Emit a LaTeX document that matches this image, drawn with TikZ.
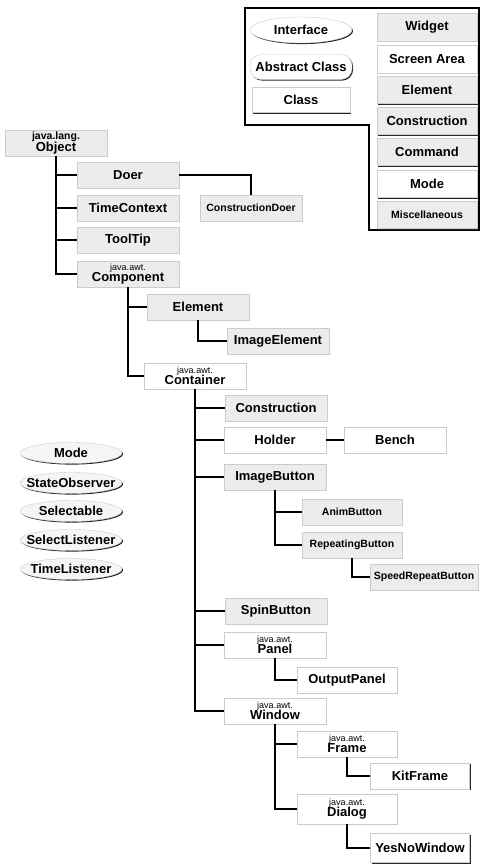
\documentclass[tikz,border=0pt]{standalone}
\usepackage{fontspec}
\setmainfont{Liberation Sans}
\usetikzlibrary{shapes.geometric,shadows}

\newcommand{\pkg}[1]{{\fontsize{9}{9}\selectfont\mdseries #1}\\}
\newcommand{\wide}[1]{\makebox[0pt]{#1}}

\begin{document}
\begin{tikzpicture}[x=1pt,y=-1pt,
  every node/.style={font=\fontsize{13}{11.5}\bfseries},
  edge/.style={draw, line width=1.4pt},
  dropline/.style={drop shadow={shadow xshift=1.1pt,shadow yshift=-1.1pt,opacity=1,fill=black!85}},
  cls/.style={rectangle, draw=gray!40, fill=gray!15, dropline, minimum width=102pt, minimum height=26pt, inner sep=1pt, align=center},
  plain/.style={cls, fill=white},
  iface/.style={ellipse, draw=gray!40, fill=gray!8, dropline, minimum width=102pt, minimum height=21pt, inner sep=0pt},
  abstr/.style={rectangle, rounded corners=11pt, draw=gray!40, fill=white, dropline, minimum width=102pt, minimum height=25pt},
  small/.style={font=\fontsize{10.5}{11}\bfseries}]
\useasboundingbox (0,0) rectangle (481,867);

% legend
\draw[line width=1.1pt] (245,8) -- (479,8) -- (479,230) -- (369,230) -- (369,125) -- (245,125) -- cycle;
\node[iface, fill=white, minimum height=26pt] (lgIface) at (301,30) {\wide{Interface}};
\node[abstr] (lgAbstr) at (301,67) {Abstract Class};
\node[plain, minimum width=98pt, minimum height=25pt] (lgClass) at (301,100) {Class};
\node[cls, minimum width=100pt, minimum height=28pt] (lgWidget) at (427,27) {Widget};
\node[plain, minimum width=100pt, minimum height=28pt] (lgArea) at (427,59) {Screen Area};
\node[cls, minimum width=100pt, minimum height=27pt] (lgElem) at (427,90) {Element};
\node[cls, minimum width=100pt, minimum height=27pt] (lgCons) at (427,121) {Construction};
\node[cls, minimum width=100pt, minimum height=27pt] (lgCmd) at (427,152) {Command};
\node[plain, minimum width=100pt, minimum height=27pt] (lgMode) at (427,184) {Mode};
\node[cls, small, minimum width=100pt, minimum height=27pt] (lgMisc) at (427,215) {Miscellaneous};

% java.lang.Object branch
\node[cls] (object) at (56,143) {{\fontsize{10.5}{10}\selectfont java.lang.}\\Object};
\node[cls] (doer) at (128,175) {Doer};
\node[cls] (timectx) at (128,208) {TimeContext};
\node[cls] (tooltip) at (128,240) {ToolTip};
\node[cls] (component) at (128,274) {\pkg{java.awt.}Component};
\node[cls, small] (cdoer) at (251,208) {ConstructionDoer};

\draw[edge] (object.south) |- (doer.west);
\draw[edge] (object.south) |- (timectx.west);
\draw[edge] (object.south) |- (tooltip.west);
\draw[edge] (object.south) |- (component.west);
\draw[edge] (doer.east) -| (cdoer.north);

% component and container
\node[cls] (element) at (198,307) {Element};
\node[cls] (imgelem) at (278,341) {ImageElement};
\node[plain] (container) at (195,376) {\pkg{java.awt.}Container};

\draw[edge] (component.south) |- (element.west);
\draw[edge] (element.south) |- (imgelem.west);
\draw[edge] (component.south) |- (container.west);

\node[cls] (construction) at (276,408) {Construction};
\node[plain] (holder) at (275,440) {Holder};
\node[plain] (bench) at (395,440) {Bench};
\node[cls] (imgbutton) at (275,477) {ImageButton};
\node[cls, small, minimum width=100pt] (anim) at (352,512) {AnimButton};
\node[cls, small, minimum width=100pt] (repeating) at (352,545) {RepeatingButton};
\node[cls, small, minimum width=108pt] (speed) at (424,577) {SpeedRepeatButton};
\node[cls] (spin) at (276,611) {SpinButton};
\node[plain] (panel) at (275,645) {\pkg{java.awt.}Panel};
\node[plain, minimum width=100pt] (output) at (347,680) {OutputPanel};
\node[plain] (window) at (275,711) {\pkg{java.awt.}Window};
\node[plain, minimum width=100pt] (frame) at (347,744) {\pkg{java.awt.}Frame};
\node[plain, minimum width=99pt] (kitframe) at (420,776) {KitFrame};
\node[plain, minimum width=100pt, minimum height=30pt] (dialog) at (347,809) {\pkg{java.awt.}Dialog};
\node[plain, minimum width=99pt, minimum height=29pt] (yesno) at (420,848) {YesNoWindow};

\draw[edge] (container.south) |- (construction.west);
\draw[edge] (container.south) |- (holder.west);
\draw[edge] (holder) -- (bench);
\draw[edge] (container.south) |- (imgbutton.west);
\draw[edge] (imgbutton.south) |- (anim.west);
\draw[edge] (imgbutton.south) |- (repeating.west);
\draw[edge] (repeating.south) |- (speed.west);
\draw[edge] (container.south) |- (spin.west);
\draw[edge] (container.south) |- (panel.west);
\draw[edge] (panel.south) |- (output.west);
\draw[edge] (container.south) |- (window.west);
\draw[edge] (window.south) |- (frame.west);
\draw[edge] (frame.south) |- (kitframe.west);
\draw[edge] (window.south) |- (dialog.west);
\draw[edge] (dialog.south) |- (yesno.west);

% interfaces
\node[iface] (mode) at (71,453) {\wide{Mode}};
\node[iface] (stateobs) at (71,483) {\wide{StateObserver}};
\node[iface] (selectable) at (71,511) {\wide{Selectable}};
\node[iface] (selectlst) at (71,540) {\wide{SelectListener}};
\node[iface] (timelst) at (71,569) {\wide{TimeListener}};
\end{tikzpicture}
\end{document}
